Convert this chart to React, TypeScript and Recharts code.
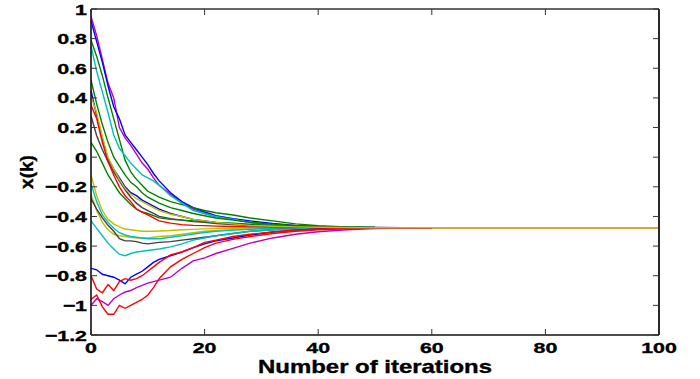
import React from 'react';
import { LineChart, Line, XAxis, YAxis } from 'recharts';

// iteration index of each stored value
const iters = [0, 1, 2, 3, 4, 5, 6, 7, 8, 9, 10, 11, 12, 14, 16, 18, 20, 22, 25, 28, 32, 36, 40, 45, 50, 55, 60, 100];

const xTicks = [0, 20, 40, 60, 80, 100];
const yTicks = [-1.2, -1, -0.8, -0.6, -0.4, -0.2, 0, 0.2, 0.4, 0.6, 0.8, 1];

// upper group
const magentaA = [0.95, 0.82, 0.66, 0.5, 0.4, 0.2, 0.13, 0.08, 0.02, -0.04, -0.08, -0.14, -0.19, -0.25, -0.31, -0.35, -0.38, -0.4, -0.42, -0.44, -0.455, -0.465, -0.47, -0.473, -0.475, -0.476, -0.476];
const blueB = [0.92, 0.78, 0.64, 0.48, 0.34, 0.26, 0.15, 0.1, 0.05, 0.0, -0.05, -0.11, -0.16, -0.24, -0.3, -0.34, -0.37, -0.395, -0.415, -0.43, -0.448, -0.46, -0.468, -0.472, -0.475];
const greenC = [0.79, 0.68, 0.55, 0.4, 0.26, 0.12, -0.02, -0.1, -0.15, -0.19, -0.23, -0.25, -0.27, -0.3, -0.32, -0.34, -0.36, -0.375, -0.39, -0.41, -0.43, -0.45, -0.462, -0.47];
const cyanD = [0.75, 0.58, 0.44, 0.3, 0.15, 0.06, 0.01, -0.04, -0.08, -0.12, -0.14, -0.16, -0.19, -0.26, -0.31, -0.36, -0.38, -0.4, -0.42, -0.44, -0.455, -0.465, -0.47, -0.473, -0.475, -0.476];
const greenE = [0.52, 0.36, 0.22, 0.1, 0.0, -0.06, -0.12, -0.17, -0.2, -0.24, -0.27, -0.29, -0.31, -0.34, -0.36, -0.38, -0.395, -0.41, -0.425, -0.44, -0.452, -0.462, -0.468, -0.472, -0.474];
const blueF = [0.45, 0.28, 0.12, -0.01, -0.08, -0.14, -0.2, -0.24, -0.26, -0.29, -0.31, -0.33, -0.35, -0.38, -0.4, -0.42, -0.43, -0.44, -0.45, -0.458, -0.465, -0.47, -0.473, -0.475];
const yellowG = [0.41, 0.3, 0.14, 0.0, -0.08, -0.15, -0.21, -0.25, -0.28, -0.3, -0.32, -0.34, -0.36, -0.385, -0.4, -0.42, -0.43, -0.44, -0.45, -0.46, -0.466, -0.47, -0.473, -0.475, -0.476, -0.476, -0.476, -0.476];
const redH = [0.35, 0.26, 0.1, -0.03, -0.12, -0.2, -0.26, -0.3, -0.35, -0.37, -0.39, -0.41, -0.43, -0.445, -0.455, -0.46, -0.462, -0.465, -0.468, -0.47, -0.472, -0.474, -0.475, -0.476, -0.476, -0.476, -0.476, -0.476];
const grayI = [0.28, 0.145, 0.05, -0.03, -0.1, -0.16, -0.22, -0.27, -0.31, -0.34, -0.36, -0.38, -0.4, -0.415, -0.425, -0.435, -0.44, -0.448, -0.455, -0.462, -0.467, -0.471, -0.474, -0.475];
const greenJ = [0.1, 0.04, -0.04, -0.12, -0.18, -0.24, -0.28, -0.32, -0.35, -0.37, -0.38, -0.395, -0.41, -0.42, -0.425, -0.43, -0.435, -0.44, -0.445, -0.452, -0.46, -0.466, -0.47, -0.473, -0.475];

// lower-middle group
const yellowK = [-0.12, -0.26, -0.36, -0.42, -0.45, -0.47, -0.485, -0.49, -0.495, -0.5, -0.5, -0.5, -0.498, -0.495, -0.49, -0.487, -0.484, -0.482, -0.48, -0.478, -0.477, -0.476, -0.476];
const yellowN = [-0.25, -0.36, -0.44, -0.49, -0.52, -0.53, -0.535, -0.54, -0.545, -0.545, -0.545, -0.54, -0.535, -0.53, -0.52, -0.51, -0.5, -0.495, -0.49, -0.485, -0.48, -0.478, -0.477, -0.476];
const cyanL = [-0.18, -0.3, -0.39, -0.44, -0.48, -0.51, -0.525, -0.535, -0.54, -0.545, -0.55, -0.55, -0.55, -0.54, -0.53, -0.518, -0.508, -0.5, -0.492, -0.486, -0.481, -0.478, -0.477, -0.476];
const grayM = [-0.28, -0.35, -0.41, -0.46, -0.5, -0.55, -0.565, -0.565, -0.57, -0.58, -0.585, -0.58, -0.575, -0.57, -0.56, -0.55, -0.54, -0.53, -0.515, -0.5, -0.49, -0.483, -0.479, -0.477, -0.476];
const cyanO = [-0.43, -0.48, -0.53, -0.58, -0.62, -0.655, -0.665, -0.65, -0.64, -0.635, -0.63, -0.625, -0.62, -0.605, -0.585, -0.56, -0.545, -0.53, -0.515, -0.5, -0.49, -0.484, -0.48, -0.477, -0.476];

// lower group
const blueP = [-0.75, -0.76, -0.79, -0.8, -0.81, -0.83, -0.855, -0.81, -0.79, -0.77, -0.74, -0.71, -0.69, -0.665, -0.64, -0.61, -0.585, -0.565, -0.545, -0.525, -0.505, -0.492, -0.484, -0.479, -0.477, -0.476];
const redQ = [-0.8, -0.89, -0.915, -0.86, -0.9, -0.84, -0.82, -0.83, -0.82, -0.8, -0.77, -0.74, -0.71, -0.66, -0.64, -0.61, -0.575, -0.56, -0.535, -0.52, -0.505, -0.493, -0.486, -0.48, -0.477, -0.476, -0.476];
const redR = [-0.96, -0.93, -1.01, -1.06, -1.06, -1.0, -1.02, -1.0, -0.98, -0.96, -0.93, -0.88, -0.82, -0.74, -0.69, -0.65, -0.61, -0.58, -0.555, -0.535, -0.515, -0.5, -0.49, -0.483, -0.479, -0.477, -0.476];
const magentaS = [-1.0, -0.955, -0.975, -1.0, -0.955, -0.93, -0.91, -0.9, -0.88, -0.865, -0.85, -0.84, -0.83, -0.81, -0.75, -0.7, -0.68, -0.65, -0.615, -0.58, -0.545, -0.52, -0.503, -0.49, -0.482, -0.478, -0.476];

const BLUE = '#0000ff';
const GREEN = '#008000';
const RED = '#ff0000';
const CYAN = '#00bfbf';
const MAGENTA = '#bf00bf';
const YELLOW = '#bfbf00';
const GRAY = '#404040';

const seriesList: { name: string; values: number[]; color: string }[] = [
  { name: 'a', values: magentaA, color: MAGENTA },
  { name: 'b', values: blueB, color: BLUE },
  { name: 'c', values: greenC, color: GREEN },
  { name: 'd', values: cyanD, color: CYAN },
  { name: 'e', values: greenE, color: GREEN },
  { name: 'f', values: blueF, color: BLUE },
  { name: 'i', values: grayI, color: GRAY },
  { name: 'j', values: greenJ, color: GREEN },
  { name: 'k', values: yellowK, color: YELLOW },
  { name: 'n', values: yellowN, color: YELLOW },
  { name: 'l', values: cyanL, color: CYAN },
  { name: 'm', values: grayM, color: GRAY },
  { name: 'o', values: cyanO, color: CYAN },
  { name: 'p', values: blueP, color: BLUE },
  { name: 'q', values: redQ, color: RED },
  { name: 'r', values: redR, color: RED },
  { name: 's', values: magentaS, color: MAGENTA },
  { name: 'h', values: redH, color: RED },
  { name: 'g', values: yellowG, color: YELLOW },
];

const toPoints = (vals: number[]) => vals.map((v, i) => ({ k: iters[i], v }));

const FONT = "'Liberation Sans', Arial, Helvetica, sans-serif";
const AX = '#111';
const fmt = (v: number) => String(v).replace('-', '\u2212');

const tickText = {
  fontFamily: FONT,
  fontWeight: 'bold' as const,
  fontSize: 15.5,
  fill: '#000',
  stroke: '#000',
  strokeWidth: 0.35,
};

function BottomTick(props: any) {
  const { x, y, payload } = props;
  return (
    <g>
      <line x1={x} x2={x} y1={y} y2={y - 6} stroke="#333" strokeWidth={1} />
      <g transform={`translate(${x},${y + 17.5}) scale(1.38,1)`}>
        <text x={0} y={0} textAnchor="middle" {...tickText}>
          {fmt(payload.value)}
        </text>
      </g>
    </g>
  );
}

function TopTick(props: any) {
  const { x, y } = props;
  return <line x1={x} x2={x} y1={y} y2={y + 6} stroke="#333" strokeWidth={1} />;
}

function LeftTick(props: any) {
  const { x, y, payload } = props;
  return (
    <g>
      <line x1={x} x2={x + 6} y1={y} y2={y} stroke="#333" strokeWidth={1} />
      <g transform={`translate(${x - 4},${y + 5.5}) scale(1.38,1)`}>
        <text x={0} y={0} textAnchor="end" {...tickText}>
          {fmt(payload.value)}
        </text>
      </g>
    </g>
  );
}

function RightTick(props: any) {
  const { x, y } = props;
  return <line x1={x} x2={x - 6} y1={y} y2={y} stroke="#333" strokeWidth={1} />;
}

function XTitle(props: any) {
  const vb = props.viewBox || { x: 91, y: 335, width: 568, height: 44 };
  return (
    <g transform={`translate(${vb.x + vb.width / 2},${vb.y + 37.5}) scale(1.33,1)`}>
      <text x={0} y={0} textAnchor="middle" fontFamily={FONT} fontWeight="bold" fontSize={18} fill="#000" stroke="#000" strokeWidth={0.35}>
        Number of iterations
      </text>
    </g>
  );
}

function YTitle(props: any) {
  const vb = props.viewBox || { x: 0, y: 9, width: 91, height: 326 };
  return (
    <g transform={`translate(${vb.x + 26},${vb.y + vb.height / 2}) rotate(-90)`}>
      <text x={0} y={0} textAnchor="middle" dominantBaseline="central" fontFamily={FONT} fontWeight="bold" fontSize={19} fill="#000" stroke="#000" strokeWidth={0.35}>
        x(k)
      </text>
    </g>
  );
}

export default function App() {
  return (
    <div style={{ position: 'absolute', left: 0, top: 0, width: 700, height: 379, background: '#fff' }}>
      <LineChart width={700} height={379} margin={{ top: 8, right: 40, bottom: 0, left: 0 }}>
        <XAxis
          xAxisId="b"
          orientation="bottom"
          dataKey="k"
          type="number"
          domain={[0, 100]}
          ticks={xTicks}
          interval={0}
          allowDataOverflow
          height={44}
          axisLine={{ stroke: AX, strokeWidth: 1.6 }}
          tickLine={false}
          tickSize={0}
          tickMargin={0}
          tick={<BottomTick />}
          label={<XTitle />}
        />
        <XAxis
          xAxisId="t"
          orientation="top"
          dataKey="k"
          type="number"
          domain={[0, 100]}
          ticks={xTicks}
          interval={0}
          allowDataOverflow
          height={1}
          axisLine={{ stroke: '#333', strokeWidth: 1.4 }}
          tickLine={false}
          tickSize={0}
          tickMargin={0}
          tick={<TopTick />}
        />
        <YAxis
          yAxisId="l"
          orientation="left"
          dataKey="v"
          type="number"
          domain={[-1.2, 1]}
          ticks={yTicks}
          interval={0}
          allowDataOverflow
          width={91}
          axisLine={{ stroke: AX, strokeWidth: 1.6 }}
          tickLine={false}
          tickSize={0}
          tickMargin={0}
          tick={<LeftTick />}
          label={<YTitle />}
        />
        <YAxis
          yAxisId="r"
          orientation="right"
          dataKey="v"
          type="number"
          domain={[-1.2, 1]}
          ticks={yTicks}
          interval={0}
          allowDataOverflow
          width={1}
          axisLine={{ stroke: AX, strokeWidth: 1.8 }}
          tickLine={false}
          tickSize={0}
          tickMargin={0}
          tick={<RightTick />}
        />
        {seriesList.map((s) => (
          <Line
            key={s.name}
            xAxisId="b"
            yAxisId="l"
            data={toPoints(s.values)}
            dataKey="v"
            type="linear"
            stroke={s.color}
            strokeWidth={1.4}
            dot={false}
            activeDot={false}
            isAnimationActive={false}
          />
        ))}
      </LineChart>
    </div>
  );
}
